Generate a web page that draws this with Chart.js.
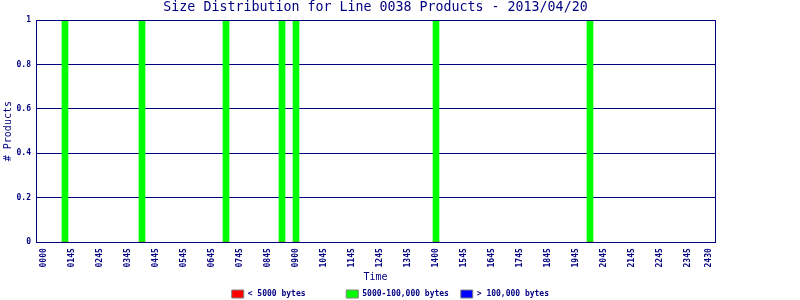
<!DOCTYPE html>
<html>
<head>
<meta charset="utf-8">
<script src="https://cdn.jsdelivr.net/npm/chart.js@4.4.1/dist/chart.umd.min.js"></script>
<style>html,body{margin:0;padding:0;background:#fff;}canvas{display:block;}</style>
</head>
<body>
<canvas id="c" width="800" height="300"></canvas>
<script>
// ---- data ----
const chartTitle = 'Size Distribution for Line 0038 Products - 2013/04/20';
const productTimes = ['0045', '0330', '0630', '0830', '0900', '1400', '1930'];
const countUnder5000 = [0, 0, 0, 0, 0, 0, 0];
const count5000to100000 = [1, 1, 1, 1, 1, 1, 1];
const countOver100000 = [0, 0, 0, 0, 0, 0, 0];
const seriesNames = ['< 5000 bytes', '5000-100,000 bytes', '> 100,000 bytes'];
const seriesColors = ['#ff0000', '#00ff00', '#0000ff'];
const xTickLabels = ['0000', '0145', '0245', '0345', '0445', '0545', '0645', '0745', '0845', '0900',
  '1045', '1145', '1245', '1345', '1400', '1545', '1645', '1745', '1845', '1945',
  '2045', '2145', '2245', '2345', '2430'];
const xTickHours = [0, 1, 2, 3, 4, 5, 6, 7, 8, 9, 10, 11, 12, 13, 14, 15, 16, 17, 18, 19, 20, 21, 22, 23, 23.75];
const yTickValues = [0, 0.2, 0.4, 0.6, 0.8, 1];
const yTickLabels = ['0', '0.2', '0.4', '0.6', '0.8', '1'];
const xMin = -0.2857, xMax = 23.9643;

// ---- chart ----
const NAVY = '#000080';
Chart.defaults.font.family = "'DejaVu Sans Mono', monospace";
Chart.defaults.color = NAVY;

const toHours = t => parseInt(t.slice(0, 2), 10) + parseInt(t.slice(2), 10) / 60;
const seriesValues = [countUnder5000, count5000to100000, countOver100000];

const datasets = seriesNames.map((name, s) => ({
  label: name,
  data: productTimes.map((t, i) => ({ x: toHours(t), y: seriesValues[s][i] })),
  backgroundColor: seriesColors[s],
  borderWidth: 0,
  barThickness: 6,
  stack: 'sizes'
}));

const framePlugin = {
  id: 'frame',
  afterDatasetsDraw(chart) {
    const { ctx, chartArea: a } = chart;
    const al = v => Math.round(v - 0.5) + 0.5;
    const l = al(a.left), r = al(a.right), t = al(a.top), b = al(a.bottom);
    ctx.save();
    ctx.strokeStyle = NAVY;
    ctx.lineWidth = 1;
    ctx.strokeRect(l, t, r - l, b - t);
    ctx.restore();
  }
};

new Chart(document.getElementById('c'), {
  type: 'bar',
  data: { datasets },
  plugins: [framePlugin],
  options: {
    responsive: false,
    animation: false,
    layout: { padding: { left: 0, right: 0, top: 0, bottom: -8 } },
    plugins: {
      title: {
        display: true,
        text: chartTitle,
        fullSize: false,
        color: NAVY,
        font: { size: 13.3, weight: 'normal', lineHeight: 1.2 },
        padding: { top: 0, bottom: 4.1 }
      },
      legend: {
        position: 'bottom',
        align: 'center',
        labels: {
          boxWidth: 12,
          boxHeight: 8,
          padding: 7,
          color: NAVY,
          font: { size: 8, weight: 'bold' },
          generateLabels(chart) {
            const items = Chart.defaults.plugins.legend.labels.generateLabels(chart);
            return items.map(it => Object.assign({}, it, {
              text: it.text.padEnd(19),
              strokeStyle: '#808080',
              lineWidth: 1
            }));
          }
        }
      },
      tooltip: { enabled: false }
    },
    scales: {
      x: {
        type: 'linear',
        stacked: true,
        min: xMin,
        max: xMax,
        offset: false,
        afterFit: s => { s.height = 40.8; },
        grid: { display: false, drawTicks: false },
        border: { display: true, color: NAVY, width: 1 },
        afterBuildTicks: s => { s.ticks = xTickHours.map(v => ({ value: v })); },
        ticks: {
          autoSkip: false,
          minRotation: 90,
          maxRotation: 90,
          padding: 6,
          color: NAVY,
          font: { size: 8, weight: 'bold' },
          callback: (v, i) => xTickLabels[i]
        },
        title: {
          display: true,
          text: 'Time',
          color: NAVY,
          font: { size: 10, weight: 'normal' },
          padding: { top: 3.5, bottom: 0 }
        }
      },
      y: {
        stacked: true,
        min: 0,
        max: 1,
        afterFit: s => { s.width = 36; },
        afterBuildTicks: s => { s.ticks = yTickValues.map(v => ({ value: v })); },
        grid: { color: NAVY, lineWidth: 1, drawTicks: false },
        border: { display: true, color: NAVY, width: 1 },
        ticks: {
          padding: 5,
          color: NAVY,
          font: { size: 8, weight: 'bold' },
          callback: (v, i) => yTickLabels[i]
        },
        title: {
          display: true,
          text: '# Products',
          color: NAVY,
          font: { size: 10, weight: 'normal' },
          padding: { top: 2, bottom: 0 }
        }
      },
      yRight: {
        type: 'linear',
        position: 'right',
        display: true,
        afterFit: s => { s.width = 85; },
        grid: { display: false, drawTicks: false },
        border: { display: false },
        ticks: { display: false }
      }
    }
  }
});
</script>
</body>
</html>
